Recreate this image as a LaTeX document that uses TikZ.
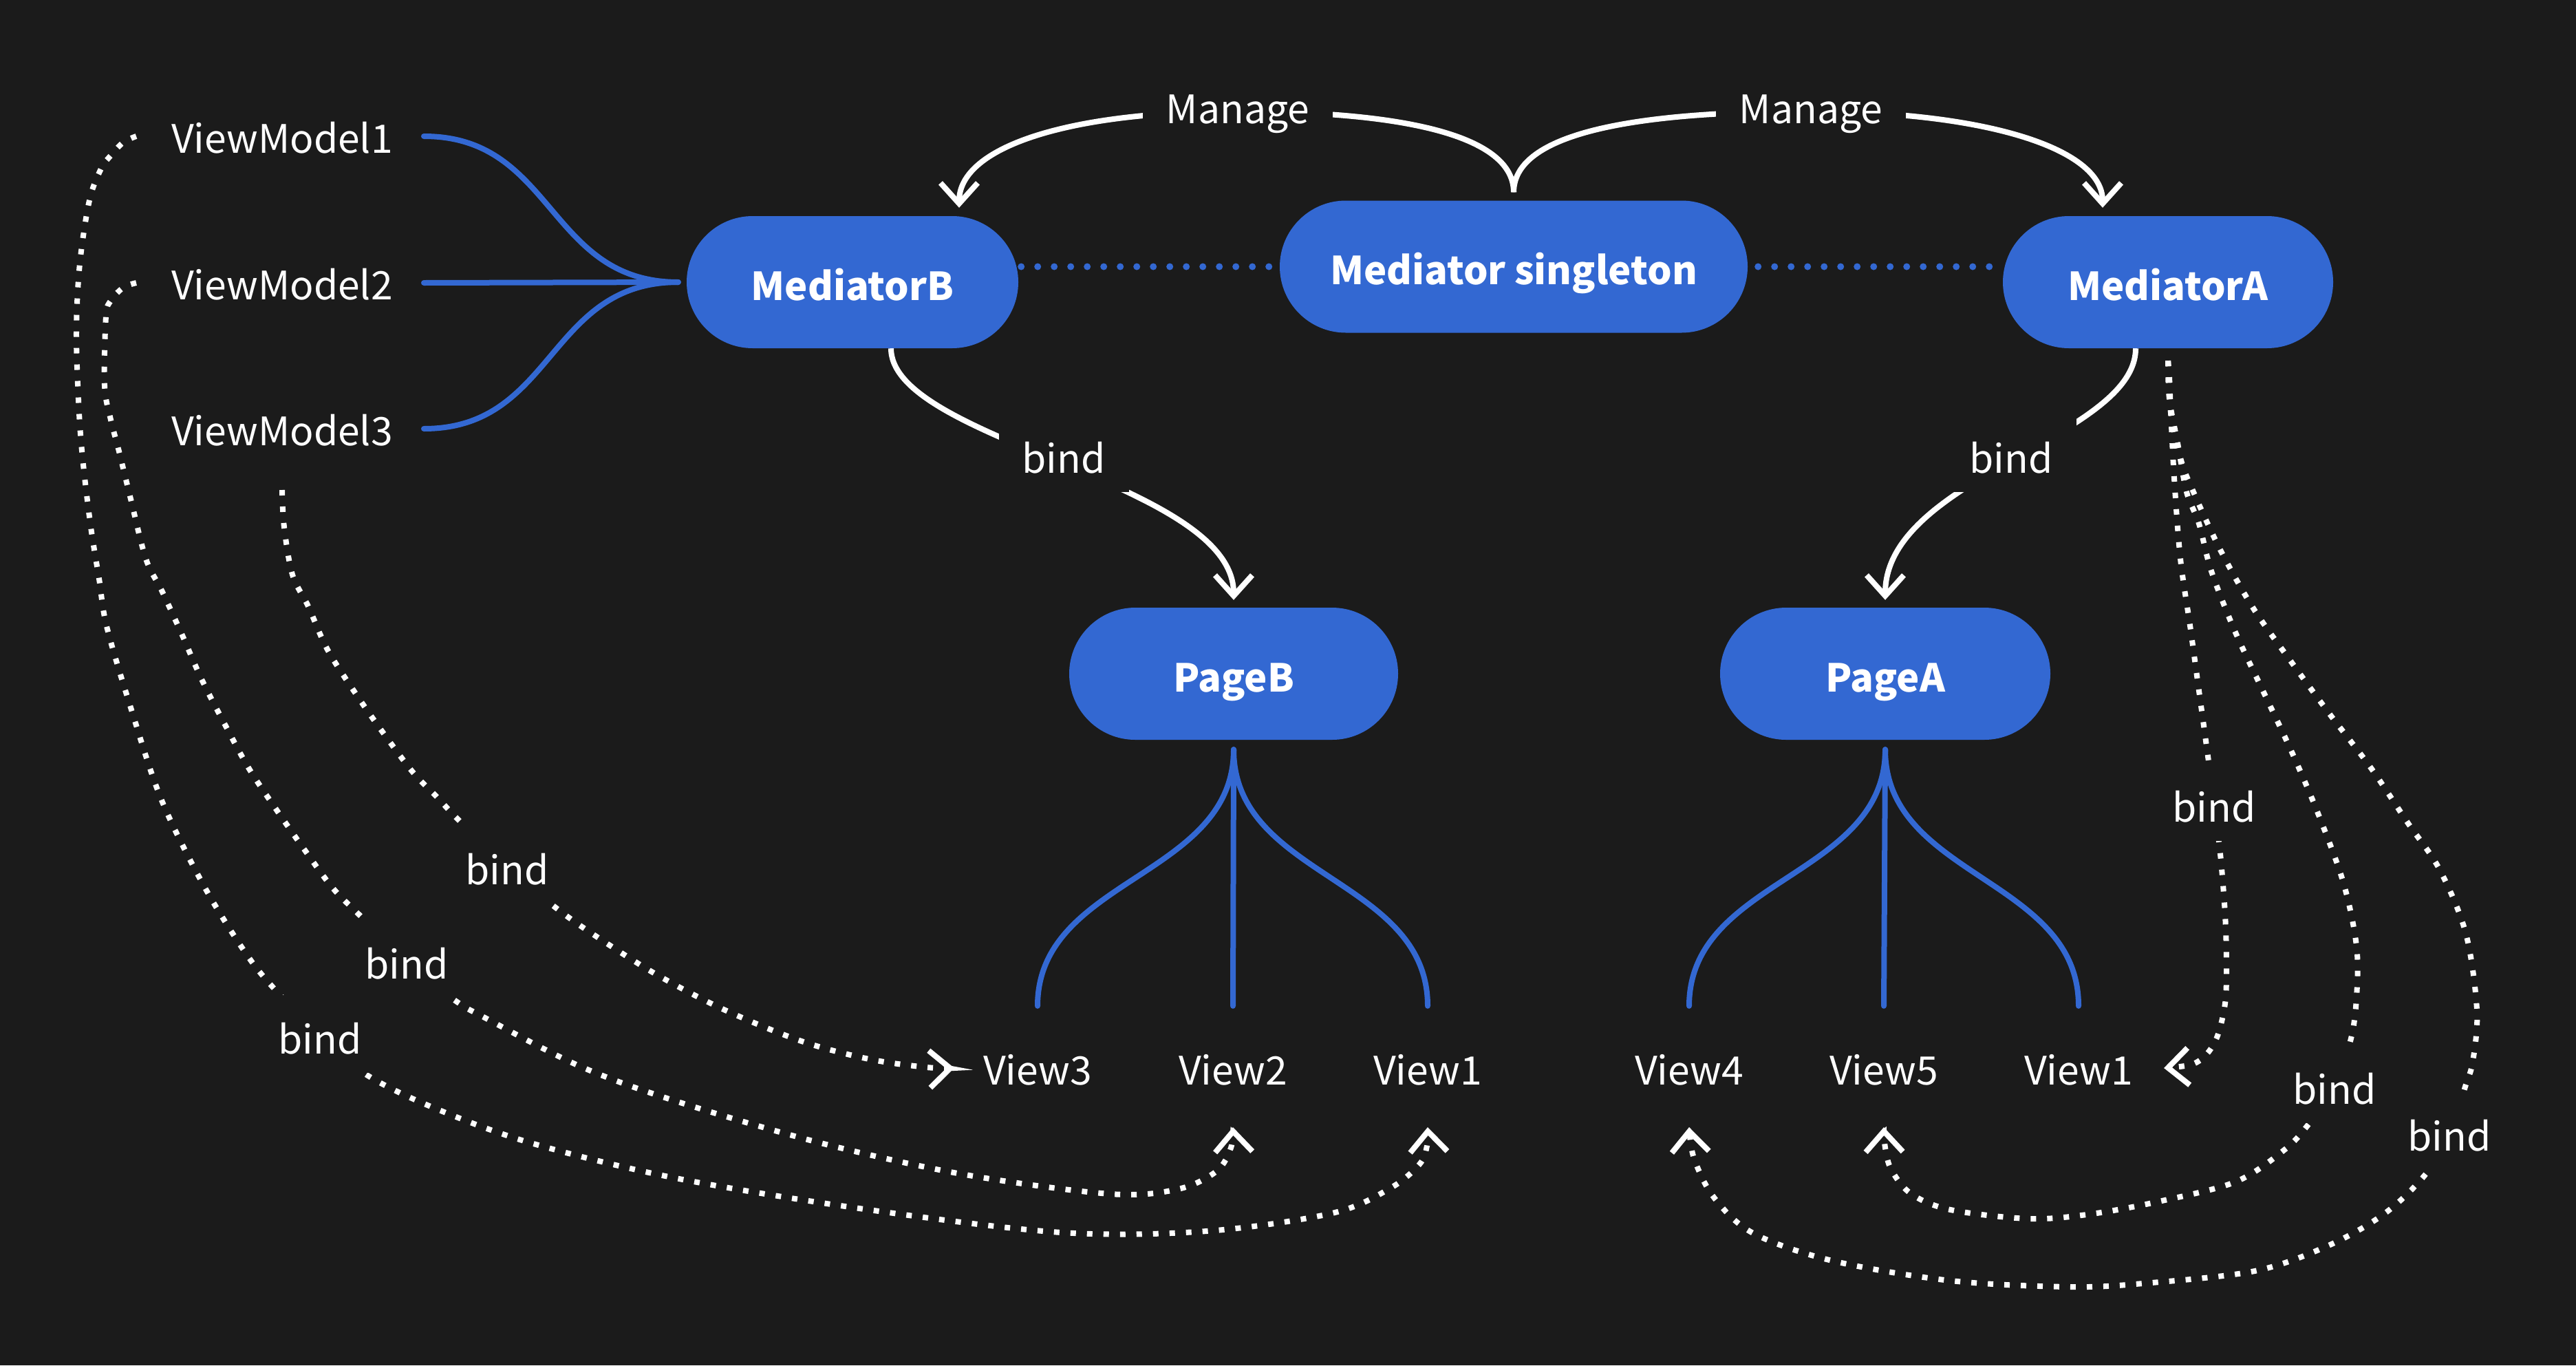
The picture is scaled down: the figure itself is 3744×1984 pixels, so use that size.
\documentclass[tikz,border=0pt]{standalone}
\usepackage{fontspec}
\setmainfont{Noto Sans CJK SC}
\usetikzlibrary{arrows.meta}
\definecolor{bgc}{HTML}{1B1B1B}
\definecolor{nblue}{HTML}{3368D2}
\pgfdeclarelayer{back}
\pgfdeclarelayer{edges}
\pgfsetlayers{back,edges,main}
\begin{document}
\begin{tikzpicture}[x=1pt,y=-1pt,
  box/.style={fill=nblue, text=white, font=\fontsize{56pt}{68pt}\selectfont\bfseries,
    rounded corners=96pt, minimum height=192pt, inner sep=0pt, text height=52pt, text depth=0pt},
  txt/.style={text=white, font=\fontsize{57pt}{69pt}\selectfont, inner sep=0pt, anchor=base,
    text height=48pt, text depth=0pt},
  elbl/.style={text=white, font=\fontsize{57pt}{69pt}\selectfont, fill=bgc, anchor=base,
    inner xsep=34pt, inner ysep=25pt, text height=60pt, text depth=3pt},
  bline/.style={draw=nblue, line width=8pt, line cap=round},
  bdot/.style={draw=nblue, line width=10pt, line cap=round, dash pattern=on 0pt off 24pt},
  wline/.style={draw=white, line width=8pt},
  wdot/.style={draw=white, line width=8pt, dash pattern=on 8pt off 16pt},
  tip/.style={-{Straight Barb[length=30pt,width=54pt]}}
]
\begin{pgfonlayer}{back}
  \fill[bgc] (0,0) rectangle (3744,1984);
\end{pgfonlayer}
\useasboundingbox (0,0) rectangle (3744,1984);

% boxes
\node[box, minimum width=482pt] (mb) at (1239,410) {MediatorB};
\node[box, minimum width=680pt] (ms) at (2200,387.5) {Mediator singleton};
\node[box, minimum width=480pt] (ma) at (3151,410) {MediatorA};
\node[box, minimum width=478pt] (pb) at (1793,979) {PageB};
\node[box, minimum width=480pt] (pa) at (2740,979) {PageA};

% plain texts
\node[txt] (vm1) at (410,222) {ViewModel1};
\node[txt] (vm2) at (410,435) {ViewModel2};
\node[txt] (vm3) at (410,647) {ViewModel3};
\node[txt] (v3) at (1508,1576) {View3};
\node[txt] (v2) at (1792,1576) {View2};
\node[txt] (v1) at (2075,1576) {View1};
\node[txt] (v4) at (2455,1576) {View4};
\node[txt] (v5) at (2738,1576) {View5};
\node[txt] (v1b) at (3021,1576) {View1};

% edge labels
\node[elbl] (man1) at (1799,179) {Manage};
\node[elbl] (man2) at (2632,179) {Manage};
\node[elbl] (bb) at (1546,687) {bind};
\node[elbl] (ba) at (2923,687) {bind};
\node[elbl] (bl3) at (737,1285) {bind};
\node[elbl] (bl2) at (591,1422) {bind};
\node[elbl] (bl1) at (465,1531) {bind};
\node[elbl] (bra) at (3218,1194) {bind};
\node[elbl] (brb) at (3393,1604) {bind};
\node[elbl] (brc) at (3560,1672) {bind};

% connector end points
\coordinate (l1s) at ([xshift=-51pt]vm1.west);
\coordinate (l2s) at ([xshift=-51pt]vm2.west);
\coordinate (l3s) at ([yshift=-65pt]vm3.base);
\coordinate (l1e) at ([yshift=-62pt]v1.base);
\coordinate (l2e) at ([yshift=-62pt]v2.base);
\coordinate (l3e) at ([xshift=-42pt]v3.west);
\coordinate (rs) at ([yshift=-18pt]ma.south);
\coordinate (rae) at ([xshift=45pt]v1b.east);
\coordinate (rbe) at ([yshift=-62pt]v5.base);
\coordinate (rce) at ([yshift=-62pt]v4.base);

\begin{pgfonlayer}{edges}
  % viewmodels to MediatorB
  \draw[bline] ([xshift=45pt]vm1.east) .. controls +(190,0) and +(-190,0) .. ([xshift=-12pt]mb.west);
  \draw[bline] ([xshift=45pt]vm2.east) -- ([xshift=-12pt]mb.west);
  \draw[bline] ([xshift=45pt]vm3.east) .. controls +(190,0) and +(-190,0) .. ([xshift=-12pt]mb.west);
  % pages to views
  \draw[bline] ([yshift=-14pt]pb.south) .. controls +(0,186) and +(0,-186) .. ([yshift=66pt]v3.north);
  \draw[bline] ([yshift=-14pt]pb.south) -- ([yshift=66pt]v2.north);
  \draw[bline] ([yshift=-14pt]pb.south) .. controls +(0,186) and +(0,-186) .. ([yshift=66pt]v1.north);
  \draw[bline] ([yshift=-14pt]pa.south) .. controls +(0,186) and +(0,-186) .. ([yshift=66pt]v4.north);
  \draw[bline] ([yshift=-14pt]pa.south) -- ([yshift=66pt]v5.north);
  \draw[bline] ([yshift=-14pt]pa.south) .. controls +(0,186) and +(0,-186) .. ([yshift=66pt]v1b.north);
  % mediator links
  \draw[bdot, shorten <=4pt, shorten >=15pt] (mb.east |- ms.west) -- (ms.west);
  \draw[bdot, shorten <=15pt, shorten >=6pt] (ms.east) -- (ma.west |- ms.east);
  % manage
  \draw[wline,tip] ([yshift=12pt]ms.north) .. controls +(0,-80) and +(250,0) .. (1799,162)
     .. controls +(-250,0) and +(0,-87) .. ([xshift=155pt,yshift=12pt]mb.north);
  \draw[wline,tip] ([yshift=12pt]ms.north) .. controls +(0,-80) and +(-280,0) .. (2632,162)
     .. controls +(250,0) and +(0,-87) .. ([xshift=-95pt,yshift=12pt]ma.north);
  % bind to pages
  \draw[wline,tip] ([xshift=56pt]mb.south) .. controls +(0,134) and +(0,-172) .. ([yshift=11pt]pb.north);
  \draw[wline,tip] ([xshift=-47pt]ma.south) .. controls +(0,130) and +(0,-178) .. ([yshift=11pt]pa.north);
  % dotted binds, left
  \draw[wdot,tip] plot[smooth,tension=0.55] coordinates {(l1s) (179,207) (161,226) (147,245) (130,291)
     (116,383) (111,483) (115,600) (121,675) (132,766) (144,841) (155,910) (189,1025) (235,1163)
     (299,1292) (362,1392) (408,1447) (465,1505) (533,1562) (631,1610) (772,1661) (982,1712)
     (1263,1758) (1543,1791) (1754,1789) (1936,1763) (2020,1727) (2063,1692) (2074,1665) (l1e)};
  \draw[wdot,tip] plot[smooth,tension=0.55] coordinates {(l2s) (179,418) (161,437) (154,460) (152,560)
     (161,610) (172,652) (189,721) (212,812) (235,858) (264,921) (293,987) (327,1053) (362,1117)
     (402,1177) (442,1234) (485,1292) (534,1341) (590,1400) (663,1455) (703,1478) (842,1549)
     (982,1600) (1193,1661) (1403,1707) (1614,1735) (1712,1728) (1768,1702) (1789,1668) (l2e)};
  \draw[wdot,tip] plot[smooth,tension=0.55] coordinates {(l3s) (413,766) (425,835) (448,881) (476,944)
     (517,1008) (557,1065) (600,1122) (634,1157) (666,1191) (737,1260) (809,1320) (867,1361)
     (954,1416) (1052,1467) (1165,1513) (1263,1539) (1347,1551) (l3e)};
  % dotted binds, right
  \draw[wdot,tip] plot[smooth,tension=0.55] coordinates {(rs) (3153,549) (3155,598) (3160,695)
     (3169,812) (3183,909) (3196,1004) (3209,1099) (3218,1170) (3227,1241) (3234,1329) (3236,1403)
     (3234,1458) (3223,1505) (3207,1532) (3185,1547) (rae)};
  \draw[wdot,tip] plot[smooth,tension=0.55] coordinates {(rs) (3153,580) (3165,644) (3178,715)
     (3196,761) (3214,830) (3249,919) (3290,1006) (3331,1093) (3369,1182) (3406,1283) (3425,1375)
     (3425,1449) (3417,1509) (3393,1580) (3355,1634) (3320,1671) (3250,1717) (3142,1745) (3040,1764)
     (2950,1771) (2835,1758) (2778,1735) (2749,1700) (2740,1668) (rbe)};
  \draw[wdot,tip] plot[smooth,tension=0.55] coordinates {(rs) (3155,600) (3170,669) (3188,715)
     (3227,799) (3275,884) (3331,963) (3387,1039) (3446,1116) (3499,1195) (3546,1264) (3584,1357)
     (3600,1468) (3594,1542) (3583,1579) (3560,1650) (3524,1708) (3465,1764) (3384,1810) (3277,1847)
     (3115,1865) (3007,1870) (2835,1861) (2663,1832) (2548,1792) (2491,1740) (2462,1683) (rce)};
\end{pgfonlayer}
\end{tikzpicture}
\end{document}
